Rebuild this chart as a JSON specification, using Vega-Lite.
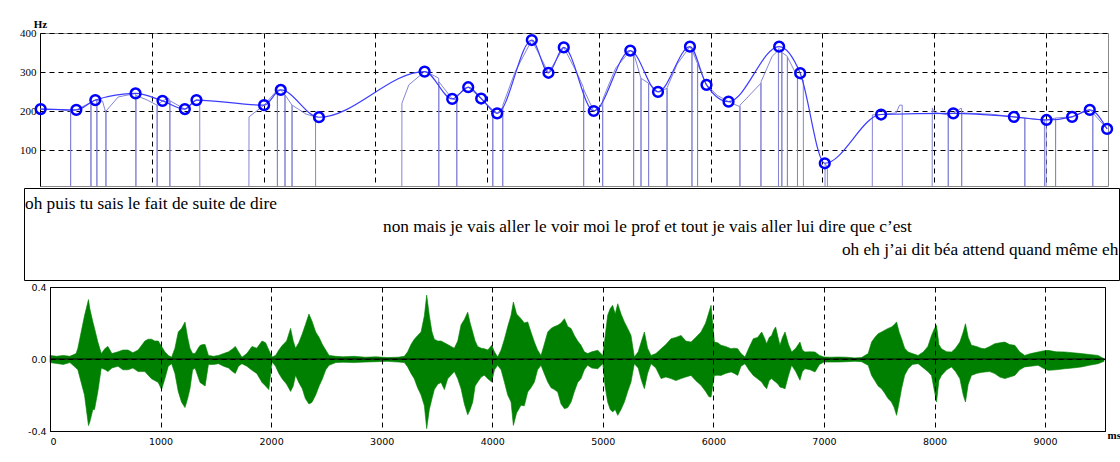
{
  "$schema": "https://vega.github.io/schema/vega-lite/v6.json",
  "background": "white",
  "padding": {"left": 19, "top": 17, "right": 0, "bottom": 0},
  "spacing": 0,
  "config": {
    "view": {"stroke": null},
    "axis": {"gridDash": [5, 4], "gridColor": "black", "gridOpacity": 1, "gridWidth": 1, "ticks": false, "domainColor": "black", "labelColor": "black"}
  },
  "datasets": {
    "pts": [
      {"t": 6, "f": 205}, {"t": 325, "f": 203}, {"t": 495, "f": 228}, {"t": 855, "f": 245}, {"t": 1096, "f": 226},
      {"t": 1296, "f": 205}, {"t": 1400, "f": 228}, {"t": 2005, "f": 215}, {"t": 2154, "f": 254}, {"t": 2496, "f": 184},
      {"t": 3441, "f": 301}, {"t": 3688, "f": 231}, {"t": 3831, "f": 261}, {"t": 3947, "f": 232}, {"t": 4090, "f": 194},
      {"t": 4400, "f": 382}, {"t": 4549, "f": 298}, {"t": 4686, "f": 363}, {"t": 4954, "f": 200}, {"t": 5281, "f": 355},
      {"t": 5529, "f": 249}, {"t": 5815, "f": 365}, {"t": 5963, "f": 267}, {"t": 6160, "f": 224}, {"t": 6613, "f": 365},
      {"t": 6801, "f": 297}, {"t": 7021, "f": 66}, {"t": 7525, "f": 191}, {"t": 8171, "f": 194}, {"t": 8713, "f": 185},
      {"t": 9005, "f": 177}, {"t": 9234, "f": 185}, {"t": 9392, "f": 203}, {"t": 9547, "f": 154}
    ],
    "raw": [
      {"t": 0, "f": 205}, {"t": 150, "f": 204}, {"t": 273, "f": 200}, {"t": 274, "f": 0}, {"t": 275, "f": 200},
      {"t": 325, "f": 203}, {"t": 455, "f": 222}, {"t": 456, "f": 0}, {"t": 457, "f": 222}, {"t": 495, "f": 228},
      {"t": 508, "f": 228}, {"t": 509, "f": 0}, {"t": 510, "f": 228}, {"t": 560, "f": 225}, {"t": 589, "f": 195},
      {"t": 590, "f": 0}, {"t": 591, "f": 200}, {"t": 700, "f": 236}, {"t": 855, "f": 245}, {"t": 857, "f": 240},
      {"t": 858, "f": 0}, {"t": 859, "f": 240}, {"t": 960, "f": 228}, {"t": 1047, "f": 215}, {"t": 1048, "f": 0},
      {"t": 1049, "f": 215}, {"t": 1096, "f": 226}, {"t": 1150, "f": 233}, {"t": 1161, "f": 226}, {"t": 1162, "f": 0},
      {"t": 1163, "f": 226}, {"t": 1296, "f": 205}, {"t": 1400, "f": 228}, {"t": 1429, "f": 228}, {"t": 1430, "f": 0},
      {"t": 1869, "f": 0}, {"t": 1870, "f": 185}, {"t": 2005, "f": 215}, {"t": 2123, "f": 254}, {"t": 2124, "f": 0},
      {"t": 2125, "f": 254}, {"t": 2154, "f": 254}, {"t": 2191, "f": 241}, {"t": 2192, "f": 0}, {"t": 2193, "f": 241},
      {"t": 2254, "f": 215}, {"t": 2255, "f": 0}, {"t": 2256, "f": 215}, {"t": 2380, "f": 192}, {"t": 2465, "f": 185},
      {"t": 2466, "f": 0}, {"t": 3237, "f": 0}, {"t": 3238, "f": 220}, {"t": 3300, "f": 267}, {"t": 3441, "f": 301},
      {"t": 3530, "f": 290}, {"t": 3567, "f": 284}, {"t": 3568, "f": 0}, {"t": 3569, "f": 275}, {"t": 3688, "f": 231},
      {"t": 3728, "f": 228}, {"t": 3729, "f": 0}, {"t": 3730, "f": 240}, {"t": 3831, "f": 261}, {"t": 3947, "f": 232},
      {"t": 4050, "f": 203}, {"t": 4051, "f": 0}, {"t": 4052, "f": 203}, {"t": 4090, "f": 194}, {"t": 4139, "f": 210},
      {"t": 4140, "f": 0}, {"t": 4141, "f": 215}, {"t": 4250, "f": 300}, {"t": 4400, "f": 382}, {"t": 4549, "f": 298},
      {"t": 4686, "f": 363}, {"t": 4800, "f": 300}, {"t": 4863, "f": 260}, {"t": 4864, "f": 0}, {"t": 4865, "f": 255},
      {"t": 4954, "f": 200}, {"t": 5033, "f": 215}, {"t": 5034, "f": 0}, {"t": 5035, "f": 230}, {"t": 5150, "f": 310},
      {"t": 5281, "f": 355}, {"t": 5310, "f": 348}, {"t": 5311, "f": 0}, {"t": 5312, "f": 348}, {"t": 5376, "f": 284},
      {"t": 5377, "f": 0}, {"t": 5378, "f": 284}, {"t": 5444, "f": 271}, {"t": 5445, "f": 0}, {"t": 5446, "f": 271},
      {"t": 5529, "f": 249}, {"t": 5609, "f": 258}, {"t": 5610, "f": 0}, {"t": 5611, "f": 260}, {"t": 5700, "f": 320},
      {"t": 5815, "f": 365}, {"t": 5832, "f": 356}, {"t": 5833, "f": 0}, {"t": 5834, "f": 356}, {"t": 5882, "f": 322},
      {"t": 5883, "f": 0}, {"t": 5884, "f": 320}, {"t": 5963, "f": 267}, {"t": 6060, "f": 240}, {"t": 6160, "f": 224},
      {"t": 6261, "f": 211}, {"t": 6262, "f": 0}, {"t": 6263, "f": 215}, {"t": 6449, "f": 271}, {"t": 6450, "f": 0},
      {"t": 6451, "f": 275}, {"t": 6550, "f": 340}, {"t": 6606, "f": 356}, {"t": 6607, "f": 0}, {"t": 6608, "f": 360},
      {"t": 6636, "f": 356}, {"t": 6637, "f": 0}, {"t": 6638, "f": 350}, {"t": 6686, "f": 340}, {"t": 6687, "f": 0},
      {"t": 6688, "f": 338}, {"t": 6776, "f": 288}, {"t": 6777, "f": 0}, {"t": 6778, "f": 285}, {"t": 6829, "f": 279},
      {"t": 6830, "f": 0}, {"t": 7023, "f": 0}, {"t": 7024, "f": 66}, {"t": 7030, "f": 62}, {"t": 7044, "f": 57},
      {"t": 7045, "f": 0}, {"t": 7446, "f": 0}, {"t": 7447, "f": 190}, {"t": 7525, "f": 191}, {"t": 7660, "f": 195},
      {"t": 7690, "f": 215}, {"t": 7714, "f": 215}, {"t": 7715, "f": 0}, {"t": 7982, "f": 0}, {"t": 7983, "f": 208},
      {"t": 8000, "f": 196}, {"t": 8125, "f": 190}, {"t": 8126, "f": 0}, {"t": 8127, "f": 192}, {"t": 8171, "f": 194},
      {"t": 8240, "f": 207}, {"t": 8245, "f": 207}, {"t": 8246, "f": 0}, {"t": 8247, "f": 195}, {"t": 8500, "f": 192},
      {"t": 8713, "f": 185}, {"t": 8810, "f": 182}, {"t": 8811, "f": 0}, {"t": 8812, "f": 182}, {"t": 8986, "f": 177},
      {"t": 8987, "f": 0}, {"t": 9001, "f": 0}, {"t": 9002, "f": 177}, {"t": 9085, "f": 182}, {"t": 9086, "f": 0},
      {"t": 9087, "f": 182}, {"t": 9234, "f": 185}, {"t": 9392, "f": 203}, {"t": 9418, "f": 197}, {"t": 9419, "f": 0},
      {"t": 9420, "f": 195}, {"t": 9547, "f": 154}
    ],
    "wave": [
      {"t": 0, "hi": 0.02, "lo": -0.02}, {"t": 60, "hi": 0.015, "lo": -0.025}, {"t": 120, "hi": 0.02, "lo": -0.03},
      {"t": 180, "hi": 0.015, "lo": -0.02}, {"t": 236, "hi": 0.03, "lo": -0.05}, {"t": 252, "hi": 0.06, "lo": -0.06},
      {"t": 282, "hi": 0.15, "lo": -0.13}, {"t": 312, "hi": 0.24, "lo": -0.2}, {"t": 348, "hi": 0.33, "lo": -0.37},
      {"t": 360, "hi": 0.28, "lo": -0.35}, {"t": 388, "hi": 0.205, "lo": -0.28}, {"t": 403, "hi": 0.17, "lo": -0.28},
      {"t": 433, "hi": 0.094, "lo": -0.18}, {"t": 464, "hi": 0.03, "lo": -0.05}, {"t": 500, "hi": 0.06, "lo": -0.06},
      {"t": 524, "hi": 0.07, "lo": -0.07}, {"t": 560, "hi": 0.03, "lo": -0.05}, {"t": 615, "hi": 0.04, "lo": -0.04},
      {"t": 660, "hi": 0.05, "lo": -0.06}, {"t": 706, "hi": 0.05, "lo": -0.06}, {"t": 750, "hi": 0.035, "lo": -0.05},
      {"t": 797, "hi": 0.05, "lo": -0.07}, {"t": 858, "hi": 0.1, "lo": -0.07}, {"t": 888, "hi": 0.11, "lo": -0.09},
      {"t": 918, "hi": 0.11, "lo": -0.11}, {"t": 948, "hi": 0.1, "lo": -0.12}, {"t": 979, "hi": 0.1, "lo": -0.13},
      {"t": 1009, "hi": 0.07, "lo": -0.17}, {"t": 1039, "hi": 0.04, "lo": -0.11}, {"t": 1070, "hi": 0.02, "lo": -0.04},
      {"t": 1100, "hi": 0.01, "lo": -0.026}, {"t": 1130, "hi": 0.06, "lo": -0.08}, {"t": 1160, "hi": 0.15, "lo": -0.18},
      {"t": 1190, "hi": 0.17, "lo": -0.24}, {"t": 1221, "hi": 0.205, "lo": -0.27}, {"t": 1245, "hi": 0.12, "lo": -0.22},
      {"t": 1266, "hi": 0.06, "lo": -0.165}, {"t": 1290, "hi": 0.03, "lo": -0.06}, {"t": 1312, "hi": 0.03, "lo": -0.05},
      {"t": 1340, "hi": 0.06, "lo": -0.1}, {"t": 1357, "hi": 0.075, "lo": -0.13}, {"t": 1380, "hi": 0.08, "lo": -0.14},
      {"t": 1403, "hi": 0.08, "lo": -0.15}, {"t": 1433, "hi": 0.02, "lo": -0.03}, {"t": 1480, "hi": 0.015, "lo": -0.03},
      {"t": 1524, "hi": 0.02, "lo": -0.026}, {"t": 1570, "hi": 0.03, "lo": -0.04}, {"t": 1615, "hi": 0.04, "lo": -0.05},
      {"t": 1650, "hi": 0.055, "lo": -0.07}, {"t": 1676, "hi": 0.07, "lo": -0.08}, {"t": 1705, "hi": 0.04, "lo": -0.04},
      {"t": 1736, "hi": 0.01, "lo": -0.026}, {"t": 1780, "hi": 0.03, "lo": -0.04}, {"t": 1827, "hi": 0.07, "lo": -0.063},
      {"t": 1870, "hi": 0.06, "lo": -0.08}, {"t": 1918, "hi": 0.1, "lo": -0.13}, {"t": 1950, "hi": 0.09, "lo": -0.15},
      {"t": 1979, "hi": 0.05, "lo": -0.17}, {"t": 2009, "hi": 0.011, "lo": -0.017}, {"t": 2040, "hi": 0.02, "lo": -0.04},
      {"t": 2070, "hi": 0.05, "lo": -0.08}, {"t": 2100, "hi": 0.075, "lo": -0.11}, {"t": 2140, "hi": 0.1, "lo": -0.14},
      {"t": 2176, "hi": 0.17, "lo": -0.18}, {"t": 2200, "hi": 0.1, "lo": -0.15}, {"t": 2221, "hi": 0.06, "lo": -0.09},
      {"t": 2250, "hi": 0.09, "lo": -0.13}, {"t": 2282, "hi": 0.14, "lo": -0.165}, {"t": 2310, "hi": 0.19, "lo": -0.22},
      {"t": 2342, "hi": 0.25, "lo": -0.25}, {"t": 2370, "hi": 0.21, "lo": -0.24}, {"t": 2403, "hi": 0.15, "lo": -0.2},
      {"t": 2434, "hi": 0.12, "lo": -0.15}, {"t": 2464, "hi": 0.08, "lo": -0.11}, {"t": 2494, "hi": 0.05, "lo": -0.06},
      {"t": 2524, "hi": 0.02, "lo": -0.035}, {"t": 2585, "hi": 0.015, "lo": -0.02}, {"t": 2650, "hi": 0.012, "lo": -0.018},
      {"t": 2750, "hi": 0.015, "lo": -0.02}, {"t": 2850, "hi": 0.01, "lo": -0.017}, {"t": 2950, "hi": 0.012, "lo": -0.015},
      {"t": 3050, "hi": 0.008, "lo": -0.013}, {"t": 3150, "hi": 0.01, "lo": -0.017}, {"t": 3205, "hi": 0.015, "lo": -0.02},
      {"t": 3235, "hi": 0.04, "lo": -0.044}, {"t": 3265, "hi": 0.08, "lo": -0.08}, {"t": 3295, "hi": 0.11, "lo": -0.11},
      {"t": 3325, "hi": 0.13, "lo": -0.16}, {"t": 3356, "hi": 0.15, "lo": -0.2}, {"t": 3386, "hi": 0.24, "lo": -0.26},
      {"t": 3407, "hi": 0.355, "lo": -0.387}, {"t": 3431, "hi": 0.24, "lo": -0.28}, {"t": 3455, "hi": 0.15, "lo": -0.22},
      {"t": 3476, "hi": 0.11, "lo": -0.17}, {"t": 3507, "hi": 0.1, "lo": -0.14}, {"t": 3537, "hi": 0.1, "lo": -0.13},
      {"t": 3567, "hi": 0.09, "lo": -0.17}, {"t": 3597, "hi": 0.08, "lo": -0.11}, {"t": 3627, "hi": 0.07, "lo": -0.09},
      {"t": 3657, "hi": 0.06, "lo": -0.07}, {"t": 3688, "hi": 0.1, "lo": -0.11}, {"t": 3718, "hi": 0.19, "lo": -0.165},
      {"t": 3748, "hi": 0.22, "lo": -0.25}, {"t": 3778, "hi": 0.26, "lo": -0.31}, {"t": 3800, "hi": 0.2, "lo": -0.28},
      {"t": 3823, "hi": 0.15, "lo": -0.24}, {"t": 3845, "hi": 0.1, "lo": -0.15}, {"t": 3868, "hi": 0.07, "lo": -0.128},
      {"t": 3900, "hi": 0.06, "lo": -0.1}, {"t": 3929, "hi": 0.057, "lo": -0.09}, {"t": 3960, "hi": 0.05, "lo": -0.11},
      {"t": 3995, "hi": 0.076, "lo": -0.128}, {"t": 4020, "hi": 0.04, "lo": -0.06}, {"t": 4049, "hi": 0.011, "lo": -0.035},
      {"t": 4080, "hi": 0.05, "lo": -0.06}, {"t": 4110, "hi": 0.11, "lo": -0.128}, {"t": 4140, "hi": 0.18, "lo": -0.2},
      {"t": 4170, "hi": 0.243, "lo": -0.239}, {"t": 4191, "hi": 0.317, "lo": -0.369}, {"t": 4220, "hi": 0.25, "lo": -0.3},
      {"t": 4260, "hi": 0.224, "lo": -0.257}, {"t": 4290, "hi": 0.2, "lo": -0.26}, {"t": 4321, "hi": 0.206, "lo": -0.183},
      {"t": 4350, "hi": 0.15, "lo": -0.16}, {"t": 4381, "hi": 0.094, "lo": -0.128}, {"t": 4410, "hi": 0.05, "lo": -0.06},
      {"t": 4441, "hi": 0.02, "lo": -0.035}, {"t": 4470, "hi": 0.08, "lo": -0.08}, {"t": 4502, "hi": 0.15, "lo": -0.128},
      {"t": 4532, "hi": 0.17, "lo": -0.16}, {"t": 4562, "hi": 0.18, "lo": -0.17}, {"t": 4592, "hi": 0.187, "lo": -0.183},
      {"t": 4622, "hi": 0.2, "lo": -0.25}, {"t": 4653, "hi": 0.224, "lo": -0.276}, {"t": 4683, "hi": 0.18, "lo": -0.27},
      {"t": 4713, "hi": 0.169, "lo": -0.239}, {"t": 4743, "hi": 0.13, "lo": -0.18}, {"t": 4773, "hi": 0.1, "lo": -0.13},
      {"t": 4803, "hi": 0.076, "lo": -0.109}, {"t": 4833, "hi": 0.04, "lo": -0.06}, {"t": 4863, "hi": 0.03, "lo": -0.035},
      {"t": 4900, "hi": 0.04, "lo": -0.05}, {"t": 4954, "hi": 0.048, "lo": -0.054}, {"t": 5000, "hi": 0.02, "lo": -0.026},
      {"t": 5020, "hi": 0.12, "lo": -0.15}, {"t": 5044, "hi": 0.243, "lo": -0.239}, {"t": 5067, "hi": 0.28, "lo": -0.28},
      {"t": 5089, "hi": 0.298, "lo": -0.294}, {"t": 5112, "hi": 0.25, "lo": -0.28}, {"t": 5135, "hi": 0.307, "lo": -0.313},
      {"t": 5165, "hi": 0.25, "lo": -0.28}, {"t": 5195, "hi": 0.206, "lo": -0.239}, {"t": 5225, "hi": 0.17, "lo": -0.18},
      {"t": 5255, "hi": 0.131, "lo": -0.128}, {"t": 5285, "hi": 0.011, "lo": -0.026}, {"t": 5320, "hi": 0.04, "lo": -0.05},
      {"t": 5350, "hi": 0.1, "lo": -0.12}, {"t": 5376, "hi": 0.15, "lo": -0.165}, {"t": 5405, "hi": 0.06, "lo": -0.08},
      {"t": 5436, "hi": 0.02, "lo": -0.026}, {"t": 5480, "hi": 0.03, "lo": -0.05}, {"t": 5527, "hi": 0.057, "lo": -0.109},
      {"t": 5570, "hi": 0.08, "lo": -0.1}, {"t": 5617, "hi": 0.113, "lo": -0.109}, {"t": 5660, "hi": 0.12, "lo": -0.12},
      {"t": 5708, "hi": 0.131, "lo": -0.109}, {"t": 5750, "hi": 0.1, "lo": -0.1}, {"t": 5798, "hi": 0.094, "lo": -0.091},
      {"t": 5840, "hi": 0.12, "lo": -0.12}, {"t": 5888, "hi": 0.15, "lo": -0.146}, {"t": 5930, "hi": 0.2, "lo": -0.18},
      {"t": 5960, "hi": 0.26, "lo": -0.21}, {"t": 5979, "hi": 0.298, "lo": -0.211}, {"t": 6009, "hi": 0.094, "lo": -0.091},
      {"t": 6040, "hi": 0.09, "lo": -0.09}, {"t": 6069, "hi": 0.076, "lo": -0.091}, {"t": 6110, "hi": 0.07, "lo": -0.08},
      {"t": 6160, "hi": 0.057, "lo": -0.072}, {"t": 6190, "hi": 0.06, "lo": -0.08}, {"t": 6220, "hi": 0.057, "lo": -0.091},
      {"t": 6250, "hi": 0.03, "lo": -0.04}, {"t": 6286, "hi": 0.011, "lo": -0.026}, {"t": 6320, "hi": 0.06, "lo": -0.06},
      {"t": 6361, "hi": 0.113, "lo": -0.091}, {"t": 6400, "hi": 0.12, "lo": -0.11}, {"t": 6437, "hi": 0.15, "lo": -0.128},
      {"t": 6460, "hi": 0.12, "lo": -0.15}, {"t": 6482, "hi": 0.085, "lo": -0.165}, {"t": 6505, "hi": 0.12, "lo": -0.12},
      {"t": 6527, "hi": 0.131, "lo": -0.109}, {"t": 6545, "hi": 0.16, "lo": -0.12}, {"t": 6563, "hi": 0.178, "lo": -0.128},
      {"t": 6585, "hi": 0.12, "lo": -0.14}, {"t": 6602, "hi": 0.076, "lo": -0.156}, {"t": 6625, "hi": 0.12, "lo": -0.16},
      {"t": 6648, "hi": 0.15, "lo": -0.165}, {"t": 6680, "hi": 0.08, "lo": -0.09}, {"t": 6708, "hi": 0.039, "lo": -0.035},
      {"t": 6745, "hi": 0.06, "lo": -0.07}, {"t": 6783, "hi": 0.094, "lo": -0.118}, {"t": 6805, "hi": 0.05, "lo": -0.07},
      {"t": 6828, "hi": 0.039, "lo": -0.054}, {"t": 6875, "hi": 0.04, "lo": -0.06}, {"t": 6919, "hi": 0.039, "lo": -0.072},
      {"t": 6960, "hi": 0.02, "lo": -0.03}, {"t": 7000, "hi": 0.011, "lo": -0.017}, {"t": 7065, "hi": 0.01, "lo": -0.017},
      {"t": 7130, "hi": 0.011, "lo": -0.017}, {"t": 7205, "hi": 0.01, "lo": -0.015}, {"t": 7280, "hi": 0.006, "lo": -0.013},
      {"t": 7340, "hi": 0.008, "lo": -0.015}, {"t": 7400, "hi": 0.03, "lo": -0.035}, {"t": 7431, "hi": 0.094, "lo": -0.091},
      {"t": 7460, "hi": 0.12, "lo": -0.12}, {"t": 7490, "hi": 0.14, "lo": -0.15}, {"t": 7521, "hi": 0.15, "lo": -0.165},
      {"t": 7550, "hi": 0.16, "lo": -0.19}, {"t": 7580, "hi": 0.17, "lo": -0.22}, {"t": 7611, "hi": 0.178, "lo": -0.239},
      {"t": 7635, "hi": 0.19, "lo": -0.27}, {"t": 7657, "hi": 0.206, "lo": -0.313}, {"t": 7680, "hi": 0.15, "lo": -0.24},
      {"t": 7702, "hi": 0.113, "lo": -0.165}, {"t": 7730, "hi": 0.06, "lo": -0.09}, {"t": 7762, "hi": 0.039, "lo": -0.054},
      {"t": 7800, "hi": 0.03, "lo": -0.03}, {"t": 7852, "hi": 0.02, "lo": -0.026}, {"t": 7900, "hi": 0.04, "lo": -0.05},
      {"t": 7940, "hi": 0.07, "lo": -0.07}, {"t": 7973, "hi": 0.131, "lo": -0.091}, {"t": 8000, "hi": 0.17, "lo": -0.18},
      {"t": 8018, "hi": 0.187, "lo": -0.239}, {"t": 8040, "hi": 0.08, "lo": -0.12}, {"t": 8063, "hi": 0.057, "lo": -0.091},
      {"t": 8110, "hi": 0.04, "lo": -0.06}, {"t": 8154, "hi": 0.039, "lo": -0.044}, {"t": 8190, "hi": 0.06, "lo": -0.07},
      {"t": 8229, "hi": 0.094, "lo": -0.109}, {"t": 8260, "hi": 0.15, "lo": -0.2}, {"t": 8280, "hi": 0.196, "lo": -0.239},
      {"t": 8305, "hi": 0.12, "lo": -0.14}, {"t": 8334, "hi": 0.076, "lo": -0.091}, {"t": 8380, "hi": 0.07, "lo": -0.08},
      {"t": 8420, "hi": 0.06, "lo": -0.075}, {"t": 8455, "hi": 0.057, "lo": -0.072}, {"t": 8500, "hi": 0.07, "lo": -0.07},
      {"t": 8545, "hi": 0.085, "lo": -0.081}, {"t": 8590, "hi": 0.09, "lo": -0.1}, {"t": 8636, "hi": 0.094, "lo": -0.109},
      {"t": 8680, "hi": 0.08, "lo": -0.1}, {"t": 8726, "hi": 0.076, "lo": -0.091}, {"t": 8770, "hi": 0.04, "lo": -0.06},
      {"t": 8816, "hi": 0.02, "lo": -0.044}, {"t": 8870, "hi": 0.03, "lo": -0.04}, {"t": 8937, "hi": 0.039, "lo": -0.035},
      {"t": 8980, "hi": 0.045, "lo": -0.05}, {"t": 9027, "hi": 0.048, "lo": -0.063}, {"t": 9100, "hi": 0.04, "lo": -0.06},
      {"t": 9178, "hi": 0.039, "lo": -0.054}, {"t": 9250, "hi": 0.035, "lo": -0.05}, {"t": 9328, "hi": 0.03, "lo": -0.044},
      {"t": 9400, "hi": 0.025, "lo": -0.035}, {"t": 9479, "hi": 0.02, "lo": -0.026}, {"t": 9533, "hi": 0.002, "lo": -0.013}
    ],
    "lines": [
      {"start": -141, "line": 1, "text": "oh puis tu sais le fait de suite de dire"},
      {"start": 3060, "line": 2, "text": "non mais je vais aller le voir moi le prof et tout je vais aller lui dire que c’est"},
      {"start": 7163, "line": 3, "text": "oh eh j’ai dit béa attend quand même eh"}
    ]
  },
  "vconcat": [
    {
      "bounds": "flush",
      "spacing": 0,
      "hconcat": [
        {"width": 16, "height": 5, "data": {"values": [{}]}, "mark": {"type": "text", "text": ""}, "encoding": {}},
        {
          "width": 1068,
          "height": 153,
          "view": {"stroke": "#888888", "strokeWidth": 1},
          "encoding": {
            "x": {"field": "t", "type": "quantitative", "scale": {"domain": [0, 9555], "nice": false, "zero": false},
              "axis": {"values": [1000, 2000, 3000, 4000, 5000, 6000, 7000, 8000, 9000], "labels": false, "ticks": false, "domain": false, "grid": true, "title": null}},
            "y": {"field": "f", "type": "quantitative", "scale": {"domain": [7.7, 400], "nice": false, "zero": false},
              "axis": {"values": [100, 200, 300, 400], "grid": true, "ticks": false, "domain": true, "domainColor": "black", "labelFont": "Liberation Serif", "labelFontSize": 11, "labelPadding": 4,
                "title": "Hz", "titleAngle": 0, "titleX": 0, "titleY": -9, "titleAlign": "center", "titleBaseline": "middle", "titleFont": "Liberation Serif", "titleFontSize": 11, "titleFontWeight": "bold"}}
          },
          "layer": [
            {"data": {"name": "raw"}, "mark": {"type": "line", "color": "#8585d6", "strokeWidth": 1, "clip": true}},
            {"data": {"name": "pts"}, "mark": {"type": "line", "color": "#3c3cff", "strokeWidth": 1.2, "interpolate": "monotone"}},
            {"data": {"name": "pts"}, "mark": {"type": "point", "shape": "circle", "filled": false, "color": "#0000ff", "strokeWidth": 2.5, "size": 95, "opacity": 1}}
          ]
        }
      ]
    },
    {
      "width": 1095,
      "height": 92,
      "view": {"stroke": "black", "strokeWidth": 1, "fill": "white"},
      "data": {"name": "lines"},
      "mark": {"type": "text", "align": "left", "baseline": "middle", "font": "Liberation Serif", "fontSize": 17.3, "color": "black"},
      "encoding": {
        "x": {"field": "start", "type": "quantitative", "scale": {"domain": [-150, 9640], "nice": false, "zero": false}, "axis": null},
        "y": {"field": "line", "type": "quantitative", "scale": {"domain": [0.304, 4.304], "reverse": true, "nice": false, "zero": false}, "axis": null},
        "text": {"field": "text"}
      }
    },
    {
      "bounds": "flush",
      "spacing": 0,
      "hconcat": [
        {"width": 26, "height": 5, "data": {"values": [{}]}, "mark": {"type": "text", "text": ""}, "encoding": {}},
        {
          "width": 1055,
          "height": 144,
          "view": {"stroke": "black", "strokeWidth": 1},
          "layer": [
            {
              "data": {"name": "wave"},
              "mark": {"type": "area", "color": "#008000", "interpolate": "linear", "stroke": "#008000", "strokeWidth": 0.6},
              "encoding": {
                "x": {"field": "t", "type": "quantitative", "scale": {"domain": [0, 9542], "nice": false, "zero": false},
                  "axis": {"values": [0, 1000, 2000, 3000, 4000, 5000, 6000, 7000, 8000, 9000], "format": "d", "grid": true, "ticks": false, "domain": true, "zindex": 1,
                    "labelFont": "DejaVu Sans", "labelFontSize": 9.5, "labelPadding": 5,
                    "title": "ms", "titleX": 1057, "titleY": 4, "titleAlign": "left", "titleBaseline": "middle", "titleFont": "Liberation Serif", "titleFontSize": 11, "titleFontWeight": "bold"}},
                "y": {"field": "hi", "type": "quantitative", "scale": {"domain": [-0.4, 0.4], "nice": false, "zero": false},
                  "axis": {"values": [-0.4, -0.2, 0, 0.2, 0.4], "labelExpr": "replace(format(datum.value, '.1f'), '\u2212', '-')", "grid": true, "ticks": false, "domain": true, "zindex": 1,
                    "labelFont": "DejaVu Sans", "labelFontSize": 9.5, "labelPadding": 4, "title": null}},
                "y2": {"field": "lo"}
              }
            },
            {
              "data": {"values": [{"v": 0}]},
              "mark": {"type": "rule", "color": "black", "strokeWidth": 1.2},
              "encoding": {"y": {"field": "v", "type": "quantitative"}}
            }
          ]
        }
      ]
    }
  ]
}
